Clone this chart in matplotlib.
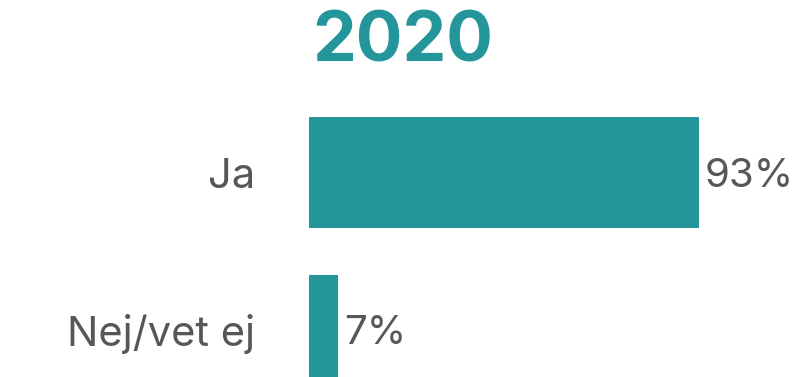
import matplotlib
matplotlib.use("Agg")
import matplotlib.pyplot as plt
from matplotlib.transforms import offset_copy

categories = ["Ja", "Nej/vet ej"]
values = [93, 7]
value_labels = ["93%", "7%"]
title = "2020"

teal = "#23959B"
grey = "#555759"
font = ["Inter", "DejaVu Sans"]

W, H, DPI = 794, 377, 100
fig = plt.figure(figsize=(W / DPI, H / DPI), dpi=DPI)

# axes placed in pixel terms: left edge at x=309, from y=100 down to the bottom
left_px, right_px = 309, 791
top_px, bottom_px = 100, 377
ax = fig.add_axes([left_px / W, 1 - bottom_px / H,
                   (right_px - left_px) / W, (bottom_px - top_px) / H])

px_per_unit = 390 / 93.0
ax.set_xlim(0, (right_px - left_px) / px_per_unit)
c0, step = 172.5, 157.5
ax.set_ylim((bottom_px - c0) / step, (top_px - c0) / step)

ypos = list(range(len(categories)))
ax.barh(ypos, values, height=111 / step, color=teal, clip_on=True)

for y, v, lab in zip(ypos, values, value_labels):
    tr = offset_copy(ax.transData, fig=fig, x=4, y=0, units="points")
    ax.text(v, y, lab, transform=tr, ha="left", va="center_baseline",
            fontsize=29, color=grey, family=font)
    trl = offset_copy(ax.transData, fig=fig, x=-(left_px - 255) * 0.72, y=0, units="points")
    ax.text(0, y, categories[y], transform=trl, ha="right",
            va="center_baseline", fontsize=30, color=grey, family=font)

ax.axis("off")

fig.text(403 / W, 1 - 43 / H, title, ha="center", va="center",
         fontsize=50, fontweight="bold", color=teal, family=font)

fig.savefig("out.png", dpi=DPI)
